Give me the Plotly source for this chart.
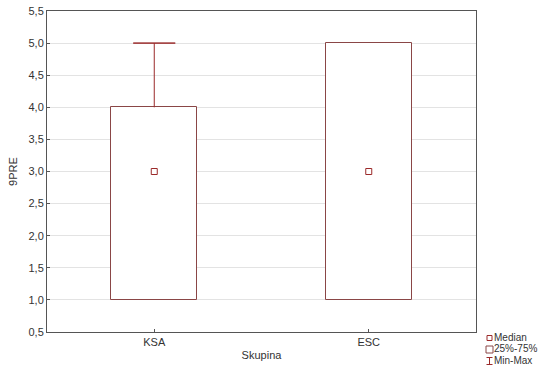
import plotly.graph_objects as go

categories = ["KSA", "ESC"]
medians = [3.0, 3.0]
q1 = [1.0, 1.0]
q3 = [4.0, 5.0]
mins = [1.0, 1.0]
maxs = [5.0, 5.0]
yticks = [0.5, 1.0, 1.5, 2.0, 2.5, 3.0, 3.5, 4.0, 4.5, 5.0, 5.5]
legend_labels = ["Median", "25%-75%", "Min-Max"]

W, H = 550, 380
# plot-area box in window pixels
PL, PR, PT, PB = 47, 476, 11, 332
xpos = list(range(len(categories)))
box_col = "#8a4646"
wh_col = "#9b2a2a"
txt_col = "#333333"
FONT = "Liberation Sans, Arial, sans-serif"


def px_x(v):
    return v / W


def px_y(v):
    return 1 - v / H


fig = go.Figure()

# boxes (25%-75%)
fig.add_trace(go.Bar(
    x=xpos, y=[b - a for a, b in zip(q1, q3)], base=q1, width=0.4,
    marker=dict(color="white", line=dict(color=box_col, width=1)),
    showlegend=False, hoverinfo="skip"))

# whisker stems (q3 -> max, q1 -> min) where they have length
wx, wy = [], []
for x, a, b, lo, hi in zip(xpos, q1, q3, mins, maxs):
    if hi > b:
        wx += [x, x, None]
        wy += [b, hi, None]
    if lo < a:
        wx += [x, x, None]
        wy += [a, lo, None]
if wx:
    fig.add_trace(go.Scatter(x=wx, y=wy, mode="lines", line=dict(color=wh_col, width=1),
                             showlegend=False, hoverinfo="skip"))
# whisker caps
cx = [x for x, b, hi in zip(xpos, q3, maxs) if hi > b] + \
     [x for x, a, lo in zip(xpos, q1, mins) if lo < a]
cy = [hi for b, hi in zip(q3, maxs) if hi > b] + \
     [lo for a, lo in zip(q1, mins) if lo < a]
if cx:
    fig.add_trace(go.Scatter(
        x=cx, y=cy, mode="markers", marker=dict(size=1, opacity=0),
        error_y=dict(type="data", array=[0] * len(cx), arrayminus=[0] * len(cx),
                     color=wh_col, thickness=1, width=21),
        showlegend=False, hoverinfo="skip"))

# medians
fig.add_trace(go.Scatter(
    x=xpos, y=medians, mode="markers",
    marker=dict(symbol="square-open", size=6, color=wh_col, line=dict(width=1)),
    showlegend=False, hoverinfo="skip"))

# ---- compact legend on an auxiliary axis measured in window pixels ----
LX0, LX1, LY0, LY1 = 478, 550, 332, 372
row_y = [338, 349.5, 361]
sym_x = 489.5
text_x = 494
fig.add_trace(go.Scatter(
    x=[sym_x], y=[row_y[0]], mode="markers", xaxis="x2", yaxis="y2",
    marker=dict(symbol="square-open", size=5, color=wh_col, line=dict(width=1)),
    showlegend=False, hoverinfo="skip"))
fig.add_trace(go.Scatter(
    x=[sym_x], y=[row_y[1]], mode="markers", xaxis="x2", yaxis="y2",
    marker=dict(symbol="square-open", size=7, color=box_col, line=dict(width=1)),
    showlegend=False, hoverinfo="skip"))
fig.add_trace(go.Scatter(
    x=[sym_x], y=[row_y[2]], mode="markers", xaxis="x2", yaxis="y2",
    marker=dict(size=1, opacity=0),
    error_y=dict(type="data", array=[3.5], arrayminus=[3.5], color=wh_col,
                 thickness=1, width=3),
    showlegend=False, hoverinfo="skip"))
fig.add_trace(go.Scatter(
    x=[text_x] * 3, y=row_y, mode="text", xaxis="x2", yaxis="y2",
    text=legend_labels, textposition="middle right",
    textfont=dict(family=FONT, size=10, color=txt_col),
    showlegend=False, hoverinfo="skip", cliponaxis=False))

fig.update_layout(
    width=W, height=H,
    margin=dict(l=0, r=0, t=0, b=0, autoexpand=False),
    paper_bgcolor="white", plot_bgcolor="white",
    separators=", ",
    font=dict(family=FONT, size=11, color=txt_col),
    bargap=0,
    showlegend=False,
    xaxis=dict(
        domain=[px_x(PL), px_x(PR)], anchor="y",
        range=[-0.5, 1.5], tickvals=xpos, ticktext=categories,
        showline=True, linecolor="#555", linewidth=1, mirror=True,
        ticks="inside", ticklen=3, tickcolor="#555", showgrid=False, zeroline=False,
        automargin=False, tickfont=dict(size=11, color=txt_col), ticklabelstandoff=0,
        title=dict(text="Skupina", font=dict(size=11, color=txt_col), standoff=4),
    ),
    yaxis=dict(
        domain=[px_y(PB), px_y(PT)], anchor="x",
        range=[0.5, 5.5], tickvals=yticks, tickformat=".1f",
        showline=True, linecolor="#555", linewidth=1, mirror=True,
        ticks="inside", ticklen=3, tickcolor="#555",
        showgrid=True, gridcolor="#e3e3e3", gridwidth=1, zeroline=False,
        automargin=False, tickfont=dict(size=11, color=txt_col),
        ticklabeloverflow="allow",
        title=dict(text="9PRE", font=dict(size=11, color=txt_col), standoff=8),
    ),
    xaxis2=dict(domain=[px_x(LX0), px_x(LX1)], anchor="y2", range=[LX0, LX1],
                visible=False, fixedrange=True),
    yaxis2=dict(domain=[px_y(LY1), px_y(LY0)], anchor="x2", range=[LY1, LY0],
                visible=False, fixedrange=True),
)

# remove the page's default body margin so the 550x380 figure fills the window
fig.write_html("out.html", config={"displayModeBar": False},
               post_script="document.body.style.margin='0';")
